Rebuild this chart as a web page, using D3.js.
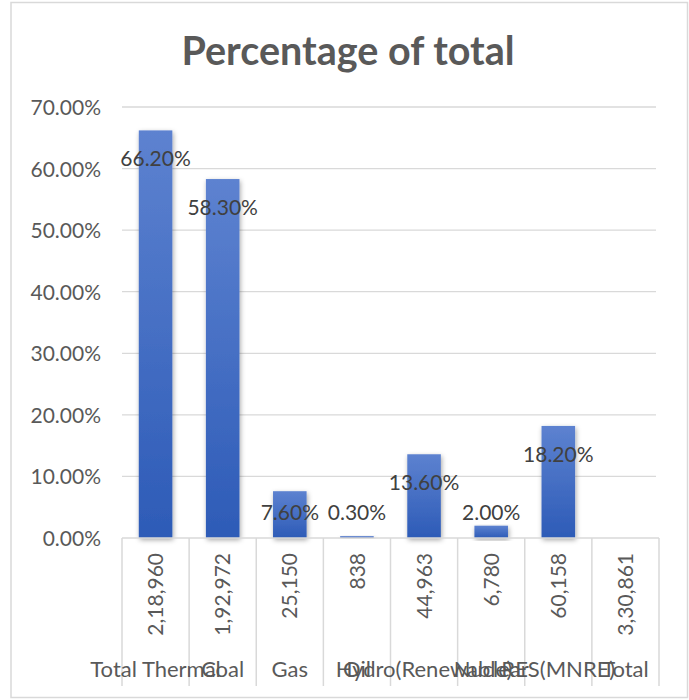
<!DOCTYPE html>
<html>
<head>
<meta charset="utf-8">
<script src="https://cdn.jsdelivr.net/npm/d3@7"></script>
<style>
  html, body { margin: 0; padding: 0; background: #fff; }
  svg { display: block; }
</style>
</head>
<body>
<svg id="chart" width="689" height="700"></svg>
<script>
const categories = ["Total Thermal", "Coal", "Gas", "Oil", "Hydro(Renewable)", "Nuclear", "RES(MNRE)", "Total"];
const percentValues = [0.662, 0.583, 0.076, 0.003, 0.136, 0.020, 0.182, null];
const tableValues = ["2,18,960", "1,92,972", "25,150", "838", "44,963", "6,780", "60,158", "3,30,861"];
const yTicks = [0, 0.1, 0.2, 0.3, 0.4, 0.5, 0.6, 0.7];
const title = "Percentage of total";

const svg = d3.select("#chart");
const font = "Lato, 'Open Sans', sans-serif";

// outer border
svg.append("rect").attr("x", 11).attr("y", 2.5).attr("width", 676.5).attr("height", 695)
  .attr("fill", "#fff").attr("stroke", "#d9d9d9").attr("stroke-width", 1.5);

const x = d3.scaleBand().domain(categories).range([122, 659]).padding(0);
const y = d3.scaleLinear().domain([0, 0.7]).range([538, 107]);

// gradient
const defs = svg.append("defs");
const grad = defs.append("linearGradient").attr("id", "barGrad")
  .attr("x1", 0).attr("y1", 0).attr("x2", 0).attr("y2", 1);
grad.append("stop").attr("offset", "0%").attr("stop-color", "#5d82d0");
grad.append("stop").attr("offset", "100%").attr("stop-color", "#2d5bb7");
const f = defs.append("filter").attr("id", "shadow").attr("x", "-30%").attr("y", "-10%").attr("width", "160%").attr("height", "130%");
f.append("feDropShadow").attr("dx", 1).attr("dy", 2).attr("stdDeviation", 2.5)
  .attr("flood-color", "#000").attr("flood-opacity", 0.35);

// title
svg.append("text").attr("x", 348).attr("y", 65).attr("text-anchor", "middle")
  .attr("font-family", font).attr("font-weight", "bold").attr("font-size", 39.5)
  .attr("fill", "#595959").text(title);

// gridlines
svg.append("g").selectAll("line").data(yTicks.filter(d => d > 0)).join("line")
  .attr("x1", 122).attr("x2", 656)
  .attr("y1", d => y(d)).attr("y2", d => y(d))
  .attr("stroke", "#d9d9d9").attr("stroke-width", 1.3);

// y axis labels
const yAxis = d3.axisLeft(y).tickValues(yTicks).tickFormat(d3.format(".2%")).tickSize(0).tickPadding(0);
const yg = svg.append("g").attr("transform", "translate(101,0)").call(yAxis);
yg.select(".domain").remove();
yg.selectAll("text").attr("font-family", font).attr("font-size", 21).attr("fill", "#595959").attr("dy", "0.36em");

// bars
const data = categories.map((c, i) => ({ c, v: percentValues[i], t: tableValues[i] }));
const bw = x.bandwidth() * 0.5;
svg.append("g").selectAll("rect").data(data.filter(d => d.v != null)).join("rect")
  .attr("x", d => x(d.c) + x.bandwidth() / 2 - bw / 2)
  .attr("y", d => y(d.v))
  .attr("width", bw)
  .attr("height", d => y(0) - y(d.v))
  .attr("fill", "url(#barGrad)")
  .attr("filter", "url(#shadow)");

// data labels
svg.append("g").selectAll("text").data(data.filter(d => d.v != null)).join("text")
  .attr("x", d => x(d.c) + x.bandwidth() / 2)
  .attr("y", d => Math.min(y(d.v) + 28, y(0) - 26))
  .attr("dy", "0.36em")
  .attr("text-anchor", "middle")
  .attr("font-family", font).attr("font-size", 21).attr("fill", "#404040")
  .text(d => d3.format(".2%")(d.v));

// table lines
svg.append("line").attr("x1", 122).attr("x2", 659).attr("y1", y(0)).attr("y2", y(0))
  .attr("stroke", "#d9d9d9").attr("stroke-width", 1.5);
const bounds = categories.map(c => x(c)).concat([x.range()[1]]);
svg.append("g").selectAll("line").data(bounds).join("line")
  .attr("x1", d => d).attr("x2", d => d)
  .attr("y1", y(0)).attr("y2", 686)
  .attr("stroke", "#d9d9d9").attr("stroke-width", 1.5);

// table values (rotated)
svg.append("g").selectAll("text").data(data).join("text")
  .attr("transform", d => `translate(${x(d.c) + x.bandwidth() / 2},553) rotate(-90)`)
  .attr("text-anchor", "end").attr("dy", "0.36em")
  .attr("font-family", font).attr("font-size", 21).attr("fill", "#595959")
  .text(d => d.t);

// category labels
svg.append("g").selectAll("text").data(data).join("text")
  .attr("x", d => x(d.c) + x.bandwidth() / 2)
  .attr("y", 677)
  .attr("text-anchor", "middle")
  .attr("font-family", font).attr("font-size", 22).attr("fill", "#595959")
  .text(d => d.c);
</script>
</body>
</html>
